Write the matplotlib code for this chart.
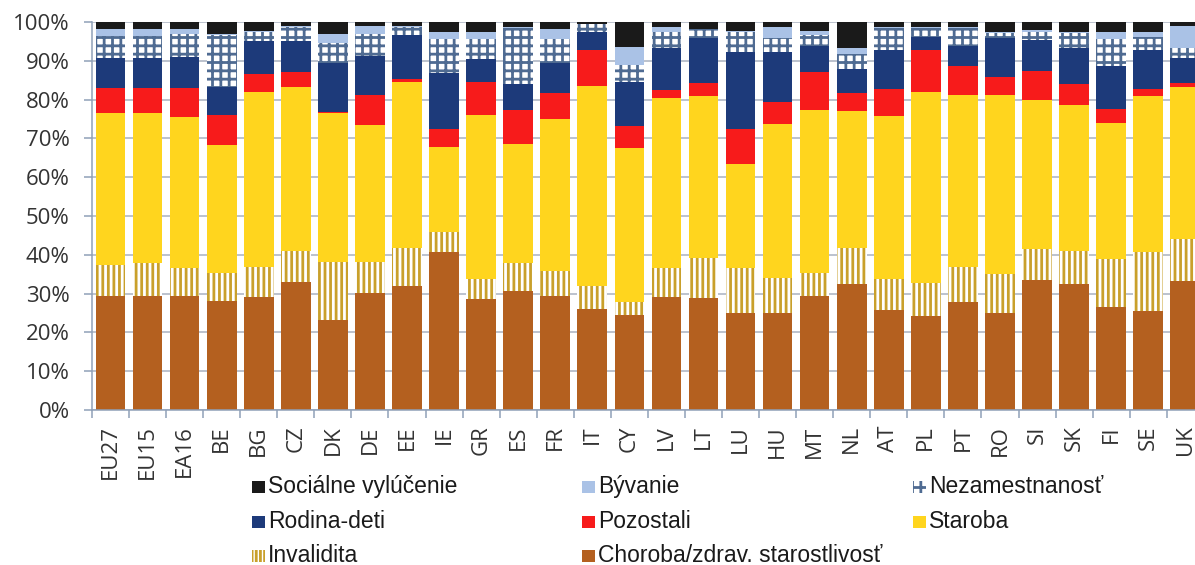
import numpy as np
import matplotlib
matplotlib.use("Agg")
import matplotlib.pyplot as plt
from matplotlib.patches import Rectangle

# Structure of social protection expenditure by function, % of total
countries = ["EU27", "EU15", "EA16", "BE", "BG", "CZ", "DK", "DE", "EE", "IE",
             "GR", "ES", "FR", "IT", "CY", "LV", "LT", "LU", "HU", "MT",
             "NL", "AT", "PL", "PT", "RO", "SI", "SK", "FI", "SE", "UK"]

choroba = [29.4, 29.4, 29.4, 28.2, 29.0, 33.1, 23.2, 30.2, 32.0, 40.6,
           28.6, 30.7, 29.4, 26.1, 24.5, 29.0, 28.9, 24.9, 24.9, 29.4,
           32.4, 25.8, 24.1, 27.8, 24.9, 33.5, 32.4, 26.5, 25.6, 33.2]
invalidita = [8.0, 8.4, 7.1, 7.0, 7.9, 7.9, 15.0, 8.0, 9.8, 5.4,
              5.1, 7.1, 6.4, 5.9, 3.4, 7.5, 10.4, 11.6, 9.2, 6.0,
              9.3, 7.9, 8.7, 9.1, 10.1, 8.0, 8.6, 12.4, 15.0, 10.8]
staroba = [39.2, 38.8, 38.9, 33.1, 45.1, 42.2, 38.3, 35.3, 42.7, 21.9,
           42.3, 30.8, 39.2, 51.6, 39.5, 43.8, 41.5, 26.8, 39.5, 42.0,
           35.4, 42.1, 49.2, 44.3, 46.2, 38.4, 37.6, 35.1, 40.2, 39.2]
pozostali = [6.3, 6.4, 7.6, 7.7, 4.6, 3.8, 0.2, 7.7, 0.8, 4.4,
             8.5, 8.7, 6.6, 9.2, 5.9, 2.2, 3.4, 9.1, 5.9, 9.6,
             4.5, 6.9, 10.8, 7.5, 4.5, 7.5, 5.4, 3.5, 1.9, 1.0]
rodina = [7.7, 7.8, 8.0, 7.3, 8.4, 8.0, 12.8, 10.0, 11.3, 14.5,
          5.9, 6.6, 7.9, 4.5, 11.3, 10.7, 11.6, 19.8, 12.7, 6.8,
          6.3, 10.1, 3.4, 5.1, 10.1, 8.0, 9.2, 11.2, 10.1, 6.4]
nezam = [5.9, 5.7, 5.9, 13.3, 2.5, 3.8, 5.2, 5.8, 2.2, 8.7,
         5.1, 14.5, 6.0, 2.2, 4.3, 4.1, 2.3, 5.3, 3.8, 2.8,
         3.8, 5.6, 2.2, 4.6, 1.3, 2.1, 3.9, 6.8, 3.4, 2.8]
byvanie = [1.7, 1.7, 1.3, 0.4, 0.2, 0.1, 2.1, 2.0, 0.2, 1.8,
           1.8, 0.2, 2.6, 0.1, 4.7, 1.3, 0.1, 0.3, 2.8, 1.2,
           1.5, 0.2, 0.2, 0.2, 0.2, 0.4, 0.2, 1.8, 1.1, 5.6]
vylucenie = [1.8, 1.8, 1.8, 3.0, 2.3, 1.1, 3.2, 1.0, 1.0, 2.7,
             2.7, 1.4, 1.9, 0.4, 6.4, 1.4, 1.8, 2.2, 1.2, 2.2,
             6.8, 1.4, 1.4, 1.4, 2.7, 2.1, 2.7, 2.7, 2.7, 1.0]

# (label, values, face, hatch colour, hatch)
series = [
    ("Choroba/zdrav. starostlivosť", choroba, "#b4601f", None, None),
    ("Invalidita", invalidita, "white", "#c9a02b", "|||"),
    ("Staroba", staroba, "#ffd51e", None, None),
    ("Pozostali", pozostali, "#f71b1b", None, None),
    ("Rodina-deti", rodina, "#1d3a7a", None, None),
    ("Nezamestnanosť", nezam, "white", "#4f6b92", "++"),
    ("Bývanie", byvanie, "#aac2e6", None, None),
    ("Sociálne vylúčenie", vylucenie, "#1a1a1a", None, None),
]

plt.rcParams["hatch.linewidth"] = 2.0

W, H = 1195, 565
fig = plt.figure(figsize=(W / 100, H / 100), dpi=100)
step = 37.06
ax = fig.add_axes([92 / W, (H - 410) / H, 30 * step / W, 388 / H])

x = np.arange(len(countries))
bottom = np.zeros(len(countries))
for label, vals, face, hcol, hatch in series:
    vals = np.array(vals)
    if hatch:
        ax.bar(x, vals, 0.8, bottom=bottom, facecolor=face, edgecolor=hcol,
               hatch=hatch, linewidth=0, zorder=2)
    else:
        ax.bar(x, vals, 0.8, bottom=bottom, color=face, linewidth=0, zorder=2)
    bottom += vals

ax.set_xlim(-0.5, len(countries) - 0.5)
ax.set_ylim(0, 100)
ax.set_yticks(np.arange(0, 101, 10))
ax.set_yticklabels(["%d%%" % v for v in range(0, 101, 10)])
ax.set_xticks(x)
ax.set_xticklabels(countries, rotation=90, va="top", ha="center")
ax.set_xticks(np.arange(-0.5, len(countries), 1), minor=True)

for t in ax.get_yticklabels() + ax.get_xticklabels():
    t.set_fontfamily("Open Sans")
    t.set_fontsize(16)
    t.set_color("#333333")

axis_col = "#8fa0b8"
ax.grid(True, axis="y", color="#a9b2c0", linewidth=1.1, zorder=0)
ax.set_axisbelow(True)
ax.tick_params(axis="y", length=6, width=1.1, color=axis_col, pad=10)
ax.tick_params(axis="x", which="major", length=0, pad=11)
ax.tick_params(axis="x", which="minor", length=6, width=1.1, color=axis_col)
for side in ["top", "right"]:
    ax.spines[side].set_visible(False)
for side in ["left", "bottom"]:
    ax.spines[side].set_color(axis_col)
    ax.spines[side].set_linewidth(1.1)

# legend: three fixed-width columns, filled row by row
legend_order = [7, 6, 5, 4, 3, 2, 1, 0]
legend_hatch = {"|||": "||||", "++": "++"}
col_x = [252, 582, 913]
row_base = [493, 528, 562]
for i, idx in enumerate(legend_order):
    label, vals, face, hcol, hatch = series[idx]
    cx = col_x[i % 3]
    by = row_base[i // 3]
    if hatch:
        patch = Rectangle((cx / W, (H - by) / H), 13 / W, 12 / H,
                          transform=fig.transFigure, facecolor=face,
                          edgecolor=hcol, hatch=legend_hatch[hatch], linewidth=0)
    else:
        patch = Rectangle((cx / W, (H - by) / H), 13 / W, 12 / H,
                          transform=fig.transFigure, facecolor=face, linewidth=0)
    fig.patches.append(patch)
    fig.text((cx + 16) / W, (H - by) / H, label, ha="left", va="baseline",
             fontsize=16.5, family=["Liberation Sans", "DejaVu Sans"],
             color="#1a1a1a")

fig.savefig("out.png", dpi=100)
